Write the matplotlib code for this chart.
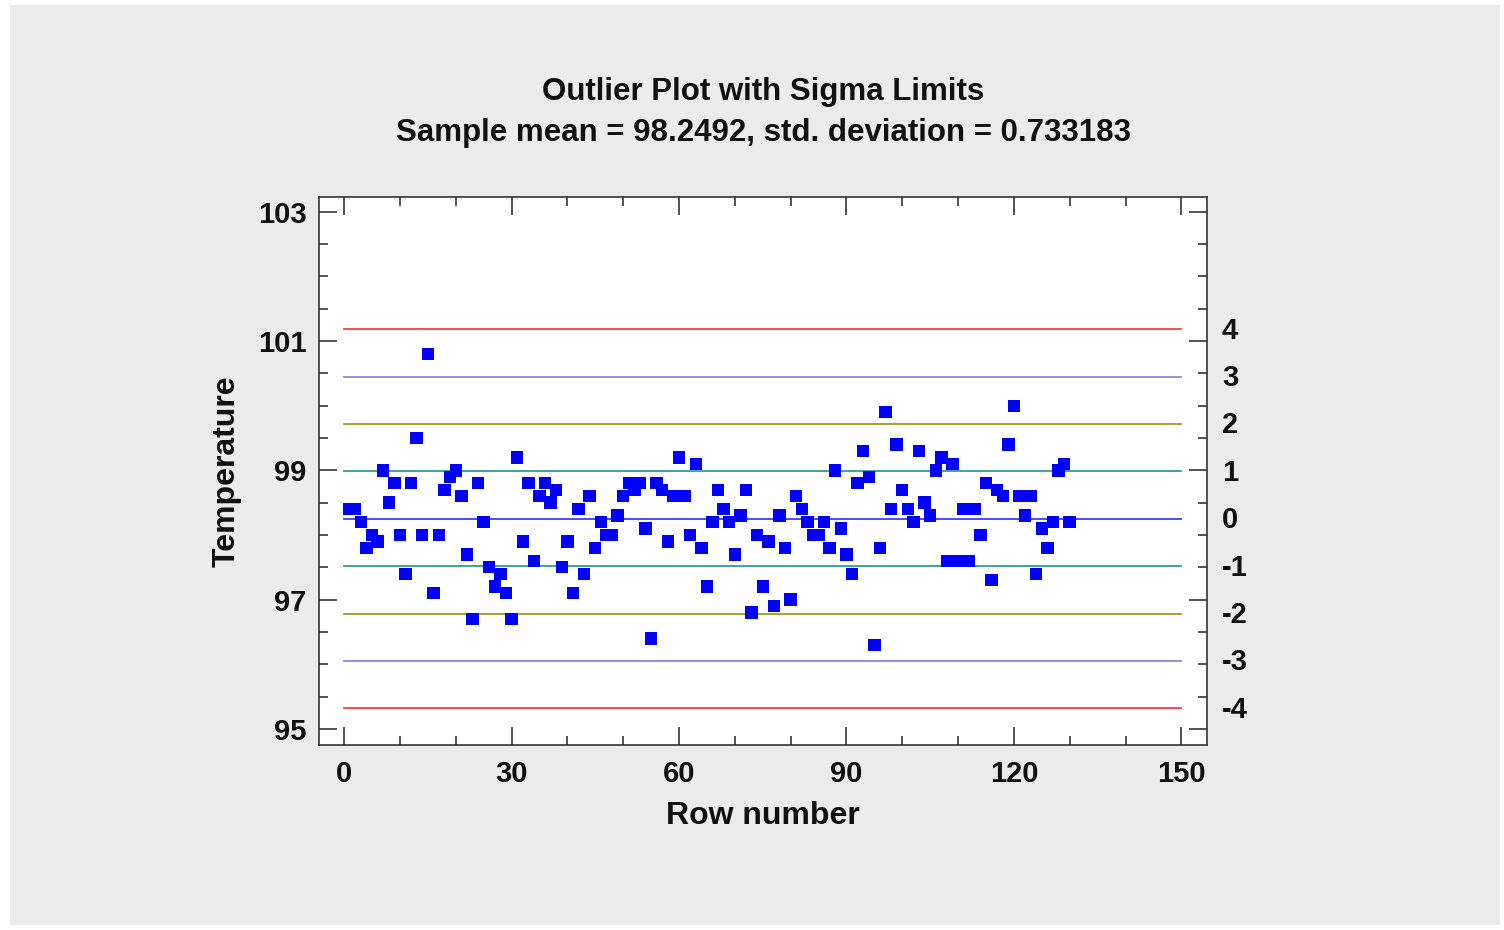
import numpy as np
import matplotlib
matplotlib.use("Agg")
import matplotlib.pyplot as plt
from matplotlib.patches import Rectangle
from matplotlib.ticker import MultipleLocator

# Body temperature readings (deg F), in row order
temperature = [
    98.4, 98.4, 98.2, 97.8, 98.0, 97.9, 99.0, 98.5, 98.8, 98.0,
    97.4, 98.8, 99.5, 98.0, 100.8, 97.1, 98.0, 98.7, 98.9, 99.0,
    98.6, 97.7, 96.7, 98.8, 98.2, 97.5, 97.2, 97.4, 97.1, 96.7,
    99.2, 97.9, 98.8, 97.6, 98.6, 98.8, 98.5, 98.7, 97.5, 97.9,
    97.1, 98.4, 97.4, 98.6, 97.8, 98.2, 98.0, 98.0, 98.3, 98.6,
    98.8, 98.7, 98.8, 98.1, 96.4, 98.8, 98.7, 97.9, 98.6, 99.2,
    98.6, 98.0, 99.1, 97.8, 97.2, 98.2, 98.7, 98.4, 98.2, 97.7,
    98.3, 98.7, 96.8, 98.0, 97.2, 97.9, 96.9, 98.3, 97.8, 97.0,
    98.6, 98.4, 98.2, 98.0, 98.0, 98.2, 97.8, 99.0, 98.1, 97.7,
    97.4, 98.8, 99.3, 98.9, 96.3, 97.8, 99.9, 98.4, 99.4, 98.7,
    98.4, 98.2, 99.3, 98.5, 98.3, 99.0, 99.2, 97.6, 99.1, 97.6,
    98.4, 97.6, 98.4, 98.0, 98.8, 97.3, 98.7, 98.6, 99.4, 100.0,
    98.6, 98.3, 98.6, 97.4, 98.1, 97.8, 98.2, 99.0, 99.1, 98.2,
]
rows = np.arange(1, len(temperature) + 1)

sample_mean = 98.2492
sample_sd = 0.733183
sigma_levels = [4, 3, 2, 1, 0, -1, -2, -3, -4]
sigma_colors = {4: "#ff3b3b", 3: "#8c84e6", 2: "#a09a1e", 1: "#2f9b9b", 0: "#3c3cff"}

x_ticks = [0, 30, 60, 90, 120, 150]
y_ticks = [95, 97, 99, 101, 103]

W, H = 1504, 930
fig = plt.figure(figsize=(W / 100, H / 100), dpi=100, facecolor="white")

# grey panel behind everything
fig.patches.append(Rectangle((10 / W, 5 / H), (W - 14) / W, (H - 10) / H,
                             transform=fig.transFigure, facecolor="#ebebeb",
                             edgecolor="none", zorder=-10))

ax = fig.add_axes([319 / W, 1 - 745 / H, (1207 - 319) / W, (745 - 197) / H])
ax.set_zorder(5)
ax.set_facecolor("white")

font = "Liberation Sans"
ink = "#111111"

# sigma limit lines with their sigma labels right of the frame
label_x = 1.0 + 15 / (1207 - 319)
for k in sigma_levels:
    y = sample_mean + k * sample_sd
    ax.plot([0, 150], [y, y], color=sigma_colors[abs(k)], lw=1.3, zorder=2)
    ax.text(label_x, y - 0.02, f"{k}", transform=ax.get_yaxis_transform(),
            ha="left", va="center", fontsize=21, fontweight="bold",
            family=font, color=ink, clip_on=False)

ax.scatter(rows, temperature, marker="s", s=80, color="#0000ff",
           edgecolors="none", zorder=3)

ax.set_xlim(-4.5, 154.6)
ax.set_ylim(94.75, 103.23)

ax.xaxis.set_minor_locator(MultipleLocator(10))
ax.yaxis.set_minor_locator(MultipleLocator(0.5))
ax.set_xticks(x_ticks)
ax.set_yticks(y_ticks)

ax.tick_params(which="both", direction="in", top=True, right=True,
               colors="#222222", width=1.1)
ax.tick_params(which="major", length=13)
ax.tick_params(which="minor", length=6.5)
ax.tick_params(axis="x", which="major", pad=11, labelsize=21)
ax.tick_params(axis="y", which="major", pad=9, labelsize=21)
for lab in ax.get_xticklabels() + ax.get_yticklabels():
    lab.set_fontweight("bold")
    lab.set_family(font)
    lab.set_color(ink)

for sp in ax.spines.values():
    sp.set_color("#333333")
    sp.set_linewidth(1.2)

ax.set_xlabel("Row number", fontsize=23, fontweight="bold", family=font,
              color=ink, labelpad=9)
ax.set_ylabel("Temperature", fontsize=23, fontweight="bold", family=font,
              color=ink, labelpad=12)

fig.text(763 / W, 1 - 92 / H, "Outlier Plot with Sigma Limits", ha="center",
         va="center", fontsize=22.5, fontweight="bold", family=font, color=ink)
fig.text(763 / W, 1 - 133 / H,
         f"Sample mean = {sample_mean}, std. deviation = {sample_sd}",
         ha="center", va="center", fontsize=22.5, fontweight="bold",
         family=font, color=ink)

fig.savefig("out.png", dpi=100, facecolor=fig.get_facecolor())
